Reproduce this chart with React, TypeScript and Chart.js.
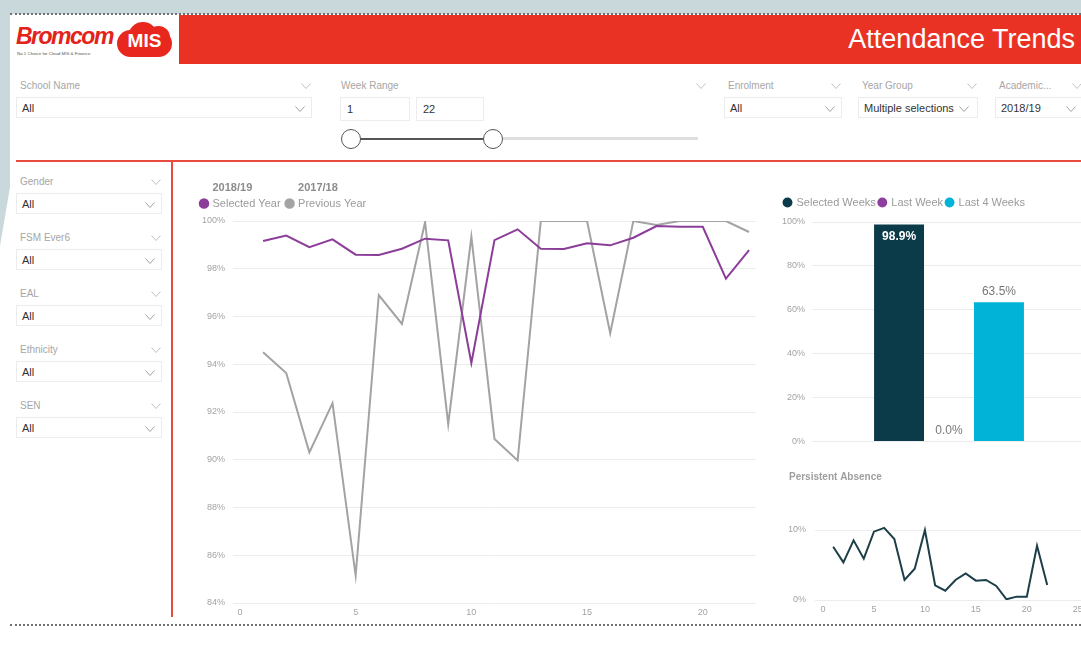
import React, { useEffect, useRef } from 'react';
import { Chart, registerables } from 'chart.js';

Chart.register(...registerables);

// ---------- data ----------
const weeks = [1, 2, 3, 4, 5, 6, 7, 8, 9, 10, 11, 12, 13, 14, 15, 16, 17, 18, 19, 20, 21, 22];
const selectedYear = [99.16, 99.39, 98.9, 99.23, 98.59, 98.58, 98.84, 99.26, 99.19, 94.05, 99.2, 99.65, 98.84, 98.83, 99.07, 98.98, 99.3, 99.79, 99.76, 99.76, 97.59, 98.78];
const previousYear = [94.5, 93.63, 90.31, 92.37, 85.15, 96.9, 95.69, 99.95, 91.49, 99.34, 90.87, 89.97, 100, 100, 100, 95.3, 100, 99.83, 100, 100, 100, 99.54];
const trendSeries = ['Selected Year', 'Previous Year'];
const yearLabels = ['2018/19', '2017/18'];
const attendanceTicks = [84, 86, 88, 90, 92, 94, 96, 98, 100];
const weekTicks = [0, 5, 10, 15, 20];

const barSeries = ['Selected Weeks', 'Last Week', 'Last 4 Weeks'];
const barValues = [98.9, 0.0, 63.5];
const barTicks = [0, 20, 40, 60, 80, 100];

const persistentAbsence = [7.6, 5.38, 8.52, 5.9, 9.76, 10.3, 8.7, 2.86, 4.48, 10.0, 2.1, 1.33, 2.86, 3.8, 2.76, 2.86, 2.0, 0.1, 0.48, 0.48, 7.76, 2.14];
const paTicks = [0, 10];
const paWeekTicks = [0, 5, 10, 15, 20, 25];

const leftSlicers = ['Gender', 'FSM Ever6', 'EAL', 'Ethnicity', 'SEN'];

// ---------- styles ----------
const FONT = 'Arial, "Liberation Sans", sans-serif';
const PURPLE = '#8c3d99';
const GREY = '#a3a3a3';
const BAR_COLORS = ['#0b3b48', '#8e3e9e', '#00b3d7'];
const PA_COLOR = '#1d3f48';
const GRID = '#ececec';
const TICK = '#a3a3a3';
const RED = '#ea3224';

const legendGap = (extra: number) => ({
  id: 'legendGap',
  beforeInit(chart: any) {
    if (!chart.legend) return;
    const orig = chart.legend.fit;
    chart.legend.fit = function () {
      orig.call(this);
      this.height += extra;
    };
  },
});

const yearPlugin = {
  id: 'yearLabels',
  afterDraw(chart: any) {
    const lg = chart.legend;
    if (!lg || !lg.legendHitBoxes) return;
    const ctx = chart.ctx;
    ctx.save();
    ctx.font = `bold 11px ${FONT}`;
    ctx.fillStyle = '#8c8c8c';
    ctx.textBaseline = 'middle';
    ctx.textAlign = 'left';
    lg.legendHitBoxes.forEach((hb: any, i: number) => {
      ctx.fillText(yearLabels[i], hb.left + 6 + 5.5, hb.top + 5.5 - 16);
    });
    ctx.restore();
  },
};

const barLabelPlugin = {
  id: 'barLabels',
  afterDatasetsDraw(chart: any) {
    const ctx = chart.ctx;
    ctx.save();
    ctx.textAlign = 'center';
    ctx.textBaseline = 'middle';
    chart.data.datasets.forEach((ds: any, i: number) => {
      const meta = chart.getDatasetMeta(i);
      meta.data.forEach((bar: any, j: number) => {
        const v = ds.data[j] as number;
        const text = v.toFixed(1) + '%';
        if (bar.y - chart.chartArea.top < 20) {
          ctx.font = `bold 12px ${FONT}`;
          ctx.fillStyle = '#ffffff';
          ctx.fillText(text, bar.x, bar.y + 12);
        } else {
          ctx.font = `12px ${FONT}`;
          ctx.fillStyle = '#777777';
          ctx.fillText(text, bar.x, bar.y - 10.5);
        }
      });
    });
    ctx.restore();
  },
};

function Chevron({ x, y, color = '#a8a8a8' }: { x: number; y: number; color?: string }) {
  return (
    <svg style={{ position: 'absolute', left: x, top: y }} width={10} height={6}>
      <polyline points="0.5,0.5 5,5.5 9.5,0.5" fill="none" stroke={color} strokeWidth={1} />
    </svg>
  );
}

function Slicer({ left, width, labelTop, boxTop, label, value, boxH = 21, boxChevronX }: any) {
  return (
    <>
      <div style={{ position: 'absolute', left: left + 4, top: labelTop, fontSize: 10, lineHeight: '12px', color: '#a6a6a6', whiteSpace: 'nowrap' }}>{label}</div>
      <Chevron x={left + width - 11} y={labelTop + 3} color="#c0c0c0" />
      <div style={{ position: 'absolute', left, top: boxTop, width, height: boxH, boxSizing: 'border-box', border: '1px solid #ececec', background: '#fff' }} />
      <div style={{ position: 'absolute', left: left + 6, top: boxTop + 1, height: boxH, lineHeight: boxH + 'px', fontSize: 11, color: '#333', whiteSpace: 'nowrap' }}>{value}</div>
      <Chevron x={boxChevronX ?? left + width - 17} y={boxTop + boxH / 2 - 2} color="#a0a0a0" />
    </>
  );
}

export default function App() {
  const mainRef = useRef<HTMLCanvasElement>(null);
  const barRef = useRef<HTMLCanvasElement>(null);
  const paRef = useRef<HTMLCanvasElement>(null);

  useEffect(() => {
    const charts: Chart[] = [];
    const tickFont = { family: FONT, size: 9 };

    if (mainRef.current) {
      charts.push(
        new Chart(mainRef.current, {
          type: 'line',
          data: {
            datasets: [
              {
                label: trendSeries[0],
                data: weeks.map((w, i) => ({ x: w, y: selectedYear[i] })),
                borderColor: PURPLE,
                backgroundColor: PURPLE,
                borderWidth: 2,
                pointRadius: 0,
                tension: 0,
              },
              {
                label: trendSeries[1],
                data: weeks.map((w, i) => ({ x: w, y: previousYear[i] })),
                borderColor: GREY,
                backgroundColor: GREY,
                borderWidth: 2,
                pointRadius: 0,
                tension: 0,
              },
            ],
          },
          options: {
            responsive: false,
            animation: false,
            devicePixelRatio: 1,
            layout: { padding: { top: 12, right: 0, left: 0, bottom: 0 } },
            plugins: {
              legend: {
                position: 'top',
                align: 'start',
                labels: {
                  usePointStyle: true,
                  pointStyle: 'circle',
                  boxWidth: 6,
                  boxHeight: 6,
                  padding: 6,
                  color: '#9a9a9a',
                  font: { family: FONT, size: 11 },
                },
              },
              tooltip: { enabled: false },
            },
            scales: {
              x: {
                type: 'linear',
                min: -0.3,
                max: 22.3,
                afterBuildTicks: (s: any) => { s.ticks = weekTicks.map((v) => ({ value: v })); },
                afterFit: (s: any) => { s.height = 20; },
                grid: { display: false, drawTicks: false },
                border: { display: false },
                ticks: { color: TICK, font: tickFont, padding: 4, maxRotation: 0 },
              },
              y: {
                min: 84,
                max: 100,
                afterBuildTicks: (s: any) => { s.ticks = attendanceTicks.map((v) => ({ value: v })); },
                afterFit: (s: any) => { s.width = 38; },
                grid: { color: GRID, drawTicks: false },
                border: { display: false },
                ticks: { color: TICK, font: tickFont, padding: 8, callback: (v: any) => v + '%' },
              },
            },
          },
          plugins: [legendGap(2), yearPlugin],
        })
      );
    }

    if (barRef.current) {
      charts.push(
        new Chart(barRef.current, {
          type: 'bar',
          data: {
            labels: [''],
            datasets: barSeries.map((name, i) => ({
              label: name,
              data: [barValues[i]],
              backgroundColor: BAR_COLORS[i],
              borderWidth: 0,
              categoryPercentage: 0.547,
              barPercentage: 1,
            })),
          },
          options: {
            responsive: false,
            animation: false,
            devicePixelRatio: 1,
            layout: { padding: { top: 0, right: 0, left: 0, bottom: 8 } },
            plugins: {
              legend: {
                position: 'top',
                align: 'start',
                labels: {
                  usePointStyle: true,
                  pointStyle: 'circle',
                  boxWidth: 7,
                  boxHeight: 7,
                  padding: 3,
                  color: '#9a9a9a',
                  font: { family: FONT, size: 11 },
                },
              },
              tooltip: { enabled: false },
            },
            scales: {
              x: { display: false },
              y: {
                min: 0,
                max: 100,
                afterBuildTicks: (s: any) => { s.ticks = barTicks.map((v) => ({ value: v })); },
                afterFit: (s: any) => { s.width = 31; },
                grid: { color: GRID, drawTicks: false },
                border: { display: false },
                ticks: { color: TICK, font: tickFont, padding: 7, callback: (v: any) => v + '%' },
              },
            },
          },
          plugins: [legendGap(4), barLabelPlugin],
        })
      );
    }

    if (paRef.current) {
      charts.push(
        new Chart(paRef.current, {
          type: 'line',
          data: {
            datasets: [
              {
                label: 'Persistent Absence',
                data: weeks.map((w, i) => ({ x: w, y: persistentAbsence[i] })),
                borderColor: PA_COLOR,
                backgroundColor: PA_COLOR,
                borderWidth: 2,
                pointRadius: 0,
                tension: 0,
              },
            ],
          },
          options: {
            responsive: false,
            animation: false,
            devicePixelRatio: 1,
            layout: { padding: 0 },
            plugins: {
              legend: { display: false },
              title: {
                display: true,
                text: 'Persistent Absence',
                align: 'start',
                color: '#9e9e9e',
                font: { family: FONT, size: 10, weight: 'bold', lineHeight: 1.2 },
                padding: { top: 4, bottom: 19 },
              },
              tooltip: { enabled: false },
            },
            scales: {
              x: {
                type: 'linear',
                min: -0.785,
                max: 26.1,
                afterBuildTicks: (s: any) => { s.ticks = paWeekTicks.map((v) => ({ value: v })); },
                afterFit: (s: any) => { s.height = 16; },
                grid: { display: false, drawTicks: false },
                border: { display: false },
                ticks: { color: TICK, font: tickFont, padding: 4, maxRotation: 0 },
              },
              y: {
                min: 0,
                max: 14,
                afterBuildTicks: (s: any) => { s.ticks = paTicks.map((v) => ({ value: v })); },
                afterFit: (s: any) => { s.width = 26; },
                grid: { color: GRID, drawTicks: false },
                border: { display: false },
                ticks: { color: TICK, font: tickFont, padding: 9, callback: (v: any) => v + '%' },
              },
            },
          },
        })
      );
    }

    return () => charts.forEach((c) => c.destroy());
  }, []);

  const abs = (o: any) => ({ position: 'absolute' as const, ...o });

  return (
    <div style={{ position: 'fixed', left: 0, top: 0, width: 1081, height: 646, overflow: 'hidden', background: '#c9d8da', fontFamily: FONT }}>
      {/* white panel */}
      <div style={abs({ left: 0, top: 14, width: 1081, height: 632, background: '#fff' })} />
      {/* grey strip at left edge */}
      <div style={abs({ left: 0, top: 14, width: 10, height: 232, background: '#c9d8da', clipPath: 'polygon(0 0, 100% 0, 100% 173px, 0 232px)' })} />
      {/* dotted borders */}
      <div style={abs({ left: 10, top: 13, width: 1071, height: 0, borderTop: '2px dotted #6f6f6f' })} />
      <div style={abs({ left: 10, top: 624, width: 1071, height: 0, borderTop: '2px dotted #6f6f6f' })} />

      {/* logo */}
      <div style={abs({ left: 16, top: 22, fontSize: 23, fontWeight: 'bold', fontStyle: 'italic', color: '#e2231a', letterSpacing: -1.5, lineHeight: '28px', whiteSpace: 'nowrap' })}>Bromcom</div>
      <div style={abs({ left: 117, top: 30, width: 55, height: 27, borderRadius: 14, background: '#e8271e' })} />
      <div style={abs({ left: 128, top: 22, width: 30, height: 30, borderRadius: '50%', background: '#e8271e' })} />
      <div style={abs({ left: 147, top: 26, width: 23, height: 23, borderRadius: '50%', background: '#e8271e' })} />
      <div style={abs({ left: 117, top: 28, width: 55, textAlign: 'center', fontSize: 19, fontWeight: 'bold', color: '#fff', lineHeight: '26px' })}>MIS</div>
      <div style={abs({ left: 17, top: 51, fontSize: 8, color: '#555', whiteSpace: 'nowrap', transform: 'scale(0.55)', transformOrigin: '0 0' })}>No.1 Choice for Cloud MIS &amp; Finance</div>

      {/* header banner */}
      <div style={abs({ left: 179, top: 15, width: 902, height: 49, background: RED })} />
      <div style={abs({ right: 6, top: 15, height: 49, lineHeight: '48px', fontSize: 27, color: '#fff', whiteSpace: 'nowrap' })}>Attendance Trends</div>

      {/* top slicers */}
      <Slicer left={16} width={296} labelTop={80} boxTop={97} label="School Name" value="All" />
      <div style={abs({ left: 341, top: 80, fontSize: 10, lineHeight: '12px', color: '#a6a6a6' })}>Week Range</div>
      <Chevron x={696} y={83} color="#c0c0c0" />
      <div style={abs({ left: 340, top: 97, width: 70, height: 24, boxSizing: 'border-box', border: '1px solid #ececec' })} />
      <div style={abs({ left: 347, top: 97, lineHeight: '24px', fontSize: 11, color: '#333' })}>1</div>
      <div style={abs({ left: 416, top: 97, width: 68, height: 24, boxSizing: 'border-box', border: '1px solid #ececec' })} />
      <div style={abs({ left: 423, top: 97, lineHeight: '24px', fontSize: 11, color: '#333' })}>22</div>
      <div style={abs({ left: 503, top: 137, width: 195, height: 3, background: '#dedede' })} />
      <div style={abs({ left: 360, top: 137.5, width: 124, height: 2.5, background: '#555' })} />
      <div style={abs({ left: 341, top: 129, width: 20, height: 20, boxSizing: 'border-box', borderRadius: '50%', border: '1.5px solid #555', background: '#fff' })} />
      <div style={abs({ left: 483, top: 129, width: 20, height: 20, boxSizing: 'border-box', borderRadius: '50%', border: '1.5px solid #555', background: '#fff' })} />
      <Slicer left={724} width={118} labelTop={80} boxTop={97} label="Enrolment" value="All" />
      <Slicer left={858} width={120} labelTop={80} boxTop={97} label="Year Group" value="Multiple selections" boxChevronX={959} />
      <Slicer left={995} width={88} labelTop={80} boxTop={97} label="Academic..." value="2018/19" />

      {/* red separators */}
      <div style={abs({ left: 16, top: 160, width: 1065, height: 2, background: '#e84a3e' })} />
      <div style={abs({ left: 171, top: 161, width: 2, height: 456, background: '#e84a3e' })} />

      {/* left slicers */}
      {leftSlicers.map((name, i) => (
        <Slicer key={name} left={16} width={146} labelTop={176 + i * 56} boxTop={193 + i * 56} label={name} value="All" boxH={21} />
      ))}

      {/* charts */}
      <canvas ref={mainRef} width={561} height={443} style={abs({ left: 195, top: 180, width: 561, height: 443 })} />
      <canvas ref={barRef} width={305} height={260} style={abs({ left: 781, top: 194, width: 305, height: 260 })} />
      <canvas ref={paRef} width={300} height={149} style={abs({ left: 789, top: 467, width: 300, height: 149 })} />
    </div>
  );
}
